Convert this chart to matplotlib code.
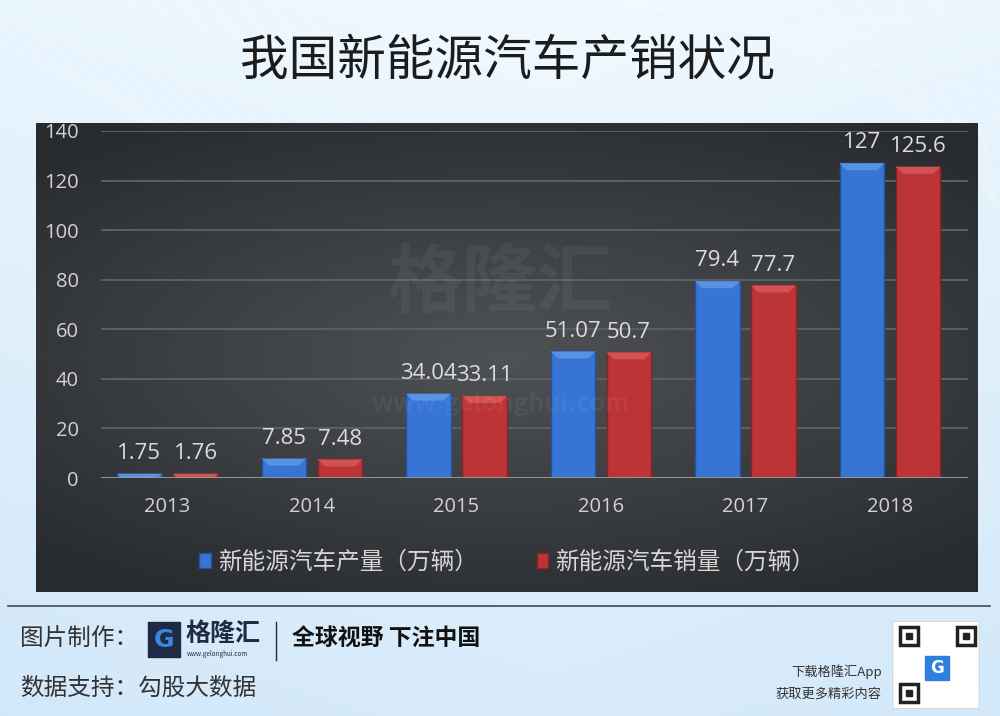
import numpy as np
import matplotlib.pyplot as plt
from matplotlib.patches import FancyBboxPatch, Rectangle, Polygon

plt.rcParams['font.family'] = ['Noto Sans CJK SC', 'DejaVu Sans']

# -----------------------------
# Data
# -----------------------------
years = ['2013', '2014', '2015', '2016', '2017', '2018']
production = [1.75, 7.85, 34.04, 51.07, 79.4, 127]
sales = [1.76, 7.48, 33.11, 50.7, 77.7, 125.6]
prod_labels = ['1.75', '7.85', '34.04', '51.07', '79.4', '127']
sales_labels = ['1.76', '7.48', '33.11', '50.7', '77.7', '125.6']
series_names = ['新能源汽车产量（万辆）', '新能源汽车销量（万辆）']

W, H = 1000, 716
fig = plt.figure(figsize=(W / 100, H / 100), dpi=100)
num_font = ['Open Sans', 'DejaVu Sans']

# -----------------------------
# Light blue page background
# -----------------------------
bg = fig.add_axes([0, 0, 1, 1])
gy, gx = np.mgrid[0:1:200j, 0:1:280j]
shade = 0.55 * gy + 0.25 * np.abs(gx - 0.55)
top = np.array([0.94, 0.975, 1.0])
bot = np.array([0.77, 0.88, 0.965])
img = top[None, None, :] * (1 - shade[..., None]) + bot[None, None, :] * shade[..., None]
bg.imshow(np.clip(img, 0, 1), extent=[0, 1, 0, 1], aspect='auto', origin='upper')
for k in range(14):
    bg.plot([-0.1 + k * 0.03, 0.25 + k * 0.02], [1.02, 0.75 - k * 0.02], color='white', lw=0.8, alpha=0.45)
    bg.plot([0.45 + k * 0.04, 1.05], [1.02, 0.95 - k * 0.035], color='white', lw=0.8, alpha=0.35)
bg.set_xlim(0, 1)
bg.set_ylim(0, 1)
bg.axis('off')

fig.text(0.507, 1 - 62 / H, '我国新能源汽车产销状况', ha='center', va='center',
         fontsize=35, color='#1c1c1c')

# -----------------------------
# Dark chart panel
# -----------------------------
panel = fig.add_axes([36 / W, 1 - 592 / H, 942 / W, 469 / H])
py, px = np.mgrid[-1:1:120j, -1:1:240j]
r = np.sqrt((px * 0.9) ** 2 + (py * 1.1) ** 2)
dark = np.array([0.16, 0.17, 0.18])
light = np.array([0.31, 0.32, 0.33])
t = np.clip(r / 1.3, 0, 1)[..., None]
panel.imshow(light * (1 - t) + dark * t, extent=[0, 1, 0, 1], aspect='auto')
panel.axis('off')

# watermark
fig.text(0.50, 1 - 284 / H, '格隆汇', ha='center', va='center', fontsize=54,
         color='white', alpha=0.05, fontweight='bold')
fig.text(0.50, 1 - 404 / H, 'www.gelonghui.com', ha='center', va='center', fontsize=18,
         color='white', alpha=0.05, fontweight='bold')

# -----------------------------
# Bar chart
# -----------------------------
ax = fig.add_axes([101 / W, 1 - 478 / H, 867 / W, 347 / H])
ax.patch.set_alpha(0)
x = np.arange(len(years))
off, bw = 0.194, 0.31
b1 = ax.bar(x - off, production, bw, color='#3675d4', edgecolor='#24539e', linewidth=1,
            label=series_names[0], zorder=3)
b2 = ax.bar(x + off, sales, bw, color='#bd3436', edgecolor='#8a2226', linewidth=1,
            label=series_names[1], zorder=3)

# bevelled top of each bar
units_per_px = 140 / 347
cap_px = 7
for rects, cap_col in ((b1, '#5892e4'), (b2, '#d25253')):
    for rect in rects:
        x0, w, h = rect.get_x(), rect.get_width(), rect.get_height()
        c = min(cap_px * units_per_px, h)
        d = w * 0.16 * c / (cap_px * units_per_px)
        ax.add_patch(Polygon([(x0, h), (x0 + w, h), (x0 + w - d, h - c), (x0 + d, h - c)],
                             closed=True, fc=cap_col, ec='none', zorder=4))

for rects, labels in ((b1, prod_labels), (b2, sales_labels)):
    for rect, lab in zip(rects, labels):
        ax.annotate(lab, (rect.get_x() + rect.get_width() / 2, rect.get_height()),
                    xytext=(0, 7), textcoords='offset points', ha='center', va='bottom',
                    fontsize=16, color='#dcdcdc', family=num_font)

ax.set_xlim(-0.46, 5.54)
ax.set_ylim(0, 140)
ax.set_yticks(range(0, 141, 20))
ax.set_xticks(x)
ax.set_xticklabels(years)
ax.yaxis.grid(True, color='#5d6063', lw=1.4, zorder=0)
ax.axhline(0, color='#9a9a9a', lw=2, zorder=5)
for s in ax.spines.values():
    s.set_visible(False)
ax.tick_params(axis='both', length=0, colors='#d2d2d2', labelsize=14.5)
ax.tick_params(axis='y', pad=16)
ax.tick_params(axis='x', pad=14)
for lab in ax.get_xticklabels() + ax.get_yticklabels():
    lab.set_family(num_font)

leg = fig.legend(handles=[b1, b2], loc='center', bbox_to_anchor=(0.507, 1 - 562 / H), ncol=2,
                 frameon=False, fontsize=17, handlelength=0.5, handleheight=0.6,
                 handletextpad=0.3, columnspacing=2.5)
for txt in leg.get_texts():
    txt.set_color('#d6d6d6')

# -----------------------------
# Footer
# -----------------------------
bg.plot([8 / W, 990 / W], [1 - 606 / H, 1 - 606 / H], color='#3c4a5c', lw=1.2)
fig.text(20 / W, 1 - 638 / H, '图片制作：', fontsize=17, color='#333333', va='center')
fig.text(20 / W, 1 - 688 / H, '数据支持：勾股大数据', fontsize=17, color='#333333', va='center')
bg.add_patch(Rectangle((148 / W, 1 - 657 / H), 32 / W, 35 / H, color='#1f2a44'))
fig.text(164 / W, 1 - 640 / H, 'G', fontsize=18, color='#3a86e0', fontweight='bold',
         ha='center', va='center', family=['DejaVu Sans'])
fig.text(185 / W, 1 - 634 / H, '格隆汇', fontsize=18, color='#1f2a44', va='center', fontweight='bold')
fig.text(187 / W, 1 - 654 / H, 'www.gelonghui.com', fontsize=4.5, color='#1f2a44', va='center')
bg.plot([276 / W, 276 / W], [1 - 622 / H, 1 - 660 / H], color='#1f2a44', lw=1)
fig.text(292 / W, 1 - 638 / H, '全球视野 下注中国', fontsize=16.5, color='#111111', va='center',
         fontweight='bold')
fig.text(882 / W, 1 - 672 / H, '下载格隆汇App', fontsize=9.5, color='#333333', va='center', ha='right')
fig.text(882 / W, 1 - 694 / H, '获取更多精彩内容', fontsize=9.5, color='#333333', va='center', ha='right')
bg.add_patch(FancyBboxPatch((895 / W, 1 - 707 / H), 82 / W, 84 / H,
                            boxstyle='round,pad=0.002', fc='white', ec='#cccccc', lw=0.5))
for cx, cy in ((900, 627), (957, 627), (900, 684)):
    bg.add_patch(Rectangle((cx / W, 1 - (cy + 18) / H), 18 / W, 18 / H, fc='none', ec='#222222', lw=2.5))
    bg.add_patch(Rectangle(((cx + 6) / W, 1 - (cy + 12) / H), 6 / W, 6 / H, color='#222222'))
bg.add_patch(Rectangle((925 / W, 1 - 680 / H), 24 / W, 24 / H, color='#2e7fe0'))
fig.text(937 / W, 1 - 668 / H, 'G', fontsize=12, color='white', fontweight='bold',
         ha='center', va='center', family=['DejaVu Sans'])

fig.savefig('out.png', dpi=100)
